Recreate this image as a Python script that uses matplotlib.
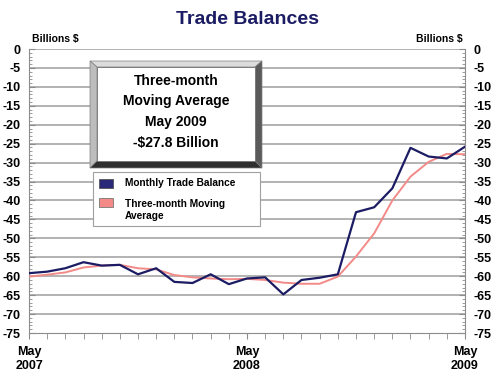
import matplotlib
matplotlib.use("Agg")
import matplotlib.pyplot as plt
from matplotlib.patches import Polygon
import numpy as np

plt.rcParams['font.family'] = ['Liberation Sans', 'DejaVu Sans']

# monthly data, May 2007 .. May 2009
months = list(range(25))
monthly = [-59.2, -58.8, -57.9, -56.3, -57.2, -57.0, -59.5, -57.9, -61.5, -61.8,
           -59.5, -62.1, -60.6, -60.3, -64.8, -61.0, -60.4, -59.5, -43.1, -41.8,
           -36.8, -26.1, -28.4, -28.9, -25.8]
moving_avg = [-60.1, -59.6, -59.0, -57.7, -57.2, -57.0, -57.9, -58.2, -59.7, -60.3,
              -60.6, -60.8, -60.7, -61.0, -61.7, -62.0, -62.0, -60.1, -54.8, -48.7,
              -40.0, -33.7, -29.8, -27.7, -27.8]
xtick_pos = [0, 12, 24]
xtick_labels = ['May\n2007', 'May\n2008', 'May\n2009']
box_lines = ['Three-month', 'Moving Average', 'May 2009', '-$27.8 Billion']

navy = '#1c1c64'
pink = '#f28a88'
grid_c = '#a6a6a6'

W, H = 496, 372
fig = plt.figure(figsize=(W / 100, H / 100), dpi=100)
fig.patch.set_facecolor('white')


def px(x, y):
    return (x / W, 1 - y / H)


ax = fig.add_axes([29 / W, 1 - 333 / H, (465 - 29) / W, (333 - 49) / H])
ax.set_xlim(0, 24)
ax.set_ylim(-75, 0)

for v in range(-70, 1, 5):
    ax.axhline(v, color=grid_c, lw=1.2, zorder=1)

ax.plot(months, moving_avg, color=pink, lw=1.4, zorder=3)
ax.plot(months, monthly, color=navy, lw=1.6, zorder=4)

for s in ['left', 'right', 'bottom']:
    ax.spines[s].set_color('#8c8c8c')
ax.spines['top'].set_visible(False)

ax.set_yticks(range(-75, 1, 5))
ax.set_yticks(range(-75, 1, 1), minor=True)
ax.set_yticklabels([str(v) for v in range(-75, 1, 5)])
ax.tick_params(axis='y', which='both', left=True, right=True, labelleft=True,
               labelright=True, direction='in', color='#8c8c8c', pad=6,
               labelsize=9)
ax.tick_params(axis='y', which='major', length=4)
ax.tick_params(axis='y', which='minor', length=2)
for lab in ax.get_yticklabels():
    lab.set_fontweight('bold')

ax.set_xticks(months, minor=True)
ax.set_xticks(xtick_pos)
ax.set_xticklabels(xtick_labels, fontweight='bold', fontsize=9)
ax.tick_params(axis='x', which='both', direction='out', color='#8c8c8c',
               length=4, pad=5)
for lab in ax.get_xticklabels():
    lab.set_linespacing(1.25)

fig.text(248 / W, 1 - 20 / H, 'Trade Balances', ha='center', va='center',
         fontsize=14, fontweight='bold', color=navy)
fig.text(*px(32, 39), 'Billions $', ha='left', va='center', fontsize=7.5,
         fontweight='bold')
fig.text(*px(463, 39), 'Billions $', ha='right', va='center', fontsize=7.5,
         fontweight='bold')

# bevelled box
ox0, oy0, ox1, oy1 = 90, 61, 262, 168
ix0, iy0, ix1, iy1 = 97, 67, 255, 161
bevels = [
    ([(ox0, oy0), (ox1, oy0), (ix1, iy0), (ix0, iy0)], '#dcdcdc'),
    ([(ox0, oy0), (ix0, iy0), (ix0, iy1), (ox0, oy1)], '#bdbdbd'),
    ([(ox1, oy0), (ox1, oy1), (ix1, iy1), (ix1, iy0)], '#5a5a5a'),
    ([(ox0, oy1), (ix0, iy1), (ix1, iy1), (ox1, oy1)], '#2e2e2e'),
]
for pts, c in bevels:
    fig.patches.append(Polygon([px(*p) for p in pts], closed=True,
                               transform=fig.transFigure, facecolor=c,
                               edgecolor='#808080', lw=0.5, zorder=5))
fig.patches.append(Polygon([px(ix0, iy0), px(ix1, iy0), px(ix1, iy1), px(ix0, iy1)],
                           closed=True, transform=fig.transFigure,
                           facecolor='white', edgecolor='#707070', lw=0.6, zorder=5))
for k, t in enumerate(box_lines):
    fig.text(*px(176, 81 + k * 20.5), t, ha='center', va='center', fontsize=10,
             fontweight='bold', zorder=6)

# legend box
fig.patches.append(Polygon([px(93, 172), px(260, 172), px(260, 226), px(93, 226)],
                           closed=True, transform=fig.transFigure,
                           facecolor='white', edgecolor='#a0a0a0', lw=0.8, zorder=5))
fig.patches.append(Polygon([px(99, 179), px(113, 179), px(113, 188), px(99, 188)],
                           closed=True, transform=fig.transFigure,
                           facecolor='#2a2a78', edgecolor='#555555', lw=0.6, zorder=6))
fig.patches.append(Polygon([px(99, 198), px(113, 198), px(113, 207), px(99, 207)],
                           closed=True, transform=fig.transFigure,
                           facecolor='#f48a88', edgecolor='#777777', lw=0.6, zorder=6))
fig.text(*px(125, 183), 'Monthly Trade Balance', ha='left', va='center',
         fontsize=7.3, fontweight='bold', zorder=6)
fig.text(*px(125, 210), 'Three-month Moving\nAverage', ha='left', va='center',
         fontsize=7.3, fontweight='bold', zorder=6, linespacing=1.3)

fig.savefig('out.png', dpi=100)
